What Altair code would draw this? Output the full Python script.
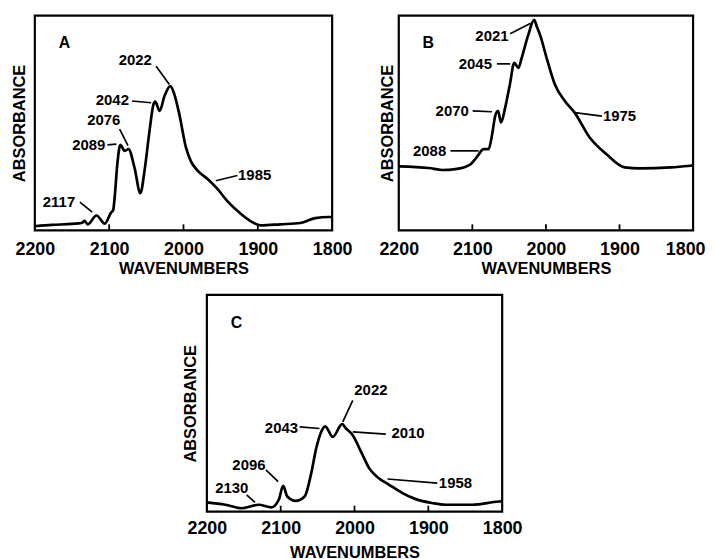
import altair as alt
import pandas as pd

FONT = "Liberation Sans"

# ---------------- Panel A ----------------
a_wn = [2200, 2177, 2150, 2137, 2133, 2129, 2117, 2106, 2097, 2094.7, 2092.6, 2089, 2085,
        2079, 2074, 2066, 2058, 2052.4, 2045.7, 2040.4, 2038, 2032, 2025.6, 2017.7,
        2012.3, 2005.6, 1996.7, 1990, 1981, 1967.6, 1954.3, 1941, 1923, 1907.4, 1896.3,
        1869.6, 1842.8, 1822.7, 1805, 1800]
a_abs = [1.9, 2.5, 3.0, 3.4, 4.4, 2.8, 6.9, 3.1, 8.5, 9.3, 15.4, 30.9, 39.8,
         37.0, 37.8, 29.3, 17.3, 27.8, 46.3, 58.6, 59.9, 55.6, 62.5, 67.1,
         63.3, 54.0, 38.6, 32.1, 27.8, 23.9, 19.3, 13.6, 7.7, 3.8, 2.3,
         2.8, 3.4, 5.7, 6.2, 6.2]
a_lbl = ["2022", "2042", "2076", "2089", "2117", "1985"]
a_lbl_wn = [2064.9, 2095.7, 2107.3, 2127.4, 2167.5, 1904.3]
a_lbl_ab = [79.2, 60.5, 51.3, 39.8, 13.4, 25.9]
a_lead_wn = [2036.8, 2069.3, 2085.9, 2102.3, 2139.4, 1956.5]
a_lead_ab = [76.4, 60.2, 47.1, 39.8, 13.1, 23.1]
a_lead_wn2 = [2019.0, 2043.5, 2074.7, 2090.3, 2122.8, 1927.5]
a_lead_ab2 = [67.9, 59.4, 39.4, 40.1, 8.5, 25.5]

# ---------------- Panel B ----------------
b_wn = [2200, 2159, 2141, 2123, 2103, 2096, 2091, 2085, 2078, 2073, 2069, 2065, 2061,
        2055.4, 2049, 2043, 2037.4, 2033, 2024, 2016, 2012, 2008, 1999, 1987.8, 1974.3,
        1961, 1940.5, 1918, 1893, 1872.7, 1830, 1803, 1800]
b_abs = [29.8, 29.0, 28.1, 28.5, 30.6, 33.2, 35.5, 37.8, 37.8, 44.8, 53.2, 55.6, 50.2,
         57.1, 67.9, 78.0, 75.6, 80.2, 91.0, 98.0, 94.5, 91.0, 80.2, 67.9, 60.2,
         54.8, 43.2, 35.5, 29.3, 28.8, 29.3, 30.1, 30.2]
b_lbl = ["2021", "2045", "2070", "2088", "1975"]
b_lbl_wn = [2073.4, 2095.9, 2127.4, 2158.1, 1900.0]
b_lbl_ab = [90.3, 77.2, 55.6, 36.7, 53.2]
b_lead_wn = [2048.6, 2066.6, 2099.6, 2129.7, 1960.8]
b_lead_ab = [91.5, 77.5, 55.6, 37.0, 54.8]
b_lead_wn2 = [2020.7, 2048.6, 2073.4, 2091.5, 1923.9]
b_lead_ab2 = [96.4, 77.5, 55.2, 37.0, 53.2]

# ---------------- Panel C ----------------
c_wn = [2200, 2175, 2153, 2130, 2112.5, 2102.6, 2096.7, 2091, 2079.7, 2067.6, 2058.6,
        2051.9, 2046, 2039.7, 2029.4, 2016.8, 2011.5, 2002.4, 1991.2, 1980, 1968.8,
        1953, 1935, 1917, 1894.7, 1876.8, 1840.8, 1805, 1800]
c_abs = [4.3, 3.2, 1.6, 3.2, 2.0, 5.5, 11.9, 7.0, 5.0, 7.0, 17.8,
         29.2, 36.1, 39.4, 34.5, 40.4, 38.4, 35.3, 27.7, 20.0, 15.9,
         12.4, 8.6, 5.8, 4.0, 3.2, 3.2, 4.7, 4.8]
c_lbl = ["2022", "2043", "2010", "2096", "2130", "1958"]
c_lbl_wn = [1977.8, 2099.0, 1927.5, 2143.0, 2166.3, 1863.3]
c_lbl_ab = [56.3, 38.4, 36.1, 21.6, 10.9, 13.2]
c_lead_wn = [2002.4, 2074.3, 2002.4, 2120.1, 2146.1, 1955.3]
c_lead_ab = [51.4, 39.1, 36.8, 19.3, 7.8, 15.1]
c_lead_wn2 = [2015.9, 2047.4, 1957.6, 2103.4, 2134.9, 1887.9]
c_lead_ab2 = [41.4, 38.4, 35.8, 13.9, 4.3, 13.2]

tick_wn = [2100, 2000, 1900]
axis_values = [2200, 2100, 2000, 1900, 1800]
letter_wn = 2160
letter_ab = 87


def panel(letter, wn, ab, lbl, lbl_wn, lbl_ab, l_wn, l_ab, l_wn2, l_ab2,
          width, height, title_x, label_pad, title_y, last_shift=0):
    xscale = alt.Scale(domain=[2200, 1800], nice=False)
    yscale = alt.Scale(domain=[0, 100], nice=False, zero=False)
    axis_kw = dict(values=axis_values, format="d", labelFlush=False, labelOverlap=False,
                   ticks=False, tickSize=0, domain=False, grid=False,
                   labelPadding=label_pad, labelBaseline="middle", labelFontSize=18,
                   title="WAVENUMBERS", titleY=title_y, titleBaseline="middle",
                   titleFontSize=16.5)
    if last_shift:
        axis_kw["labelOffset"] = {"condition": {"test": "datum.value == 1800",
                                                "value": last_shift}, "value": 0}
    xaxis = alt.Axis(**axis_kw)
    yaxis = alt.Axis(labels=False, ticks=False, domain=False, grid=False,
                     title="ABSORBANCE", titleX=title_x, titleY=height / 2,
                     titleAngle=-90, titleAlign="center", titleBaseline="middle",
                     titleFontSize=16.5)
    line_df = pd.DataFrame({"wn": wn, "ab": ab})
    line = alt.Chart(line_df).mark_line(color="black", strokeWidth=2.7,
                                        interpolate="monotone").encode(
        x=alt.X("wn:Q", scale=xscale, axis=xaxis),
        y=alt.Y("ab:Q", scale=yscale, axis=yaxis),
        order=alt.Order("wn:Q", sort="descending"),
    )
    tick_df = pd.DataFrame({"wn": tick_wn})
    ticks = alt.Chart(tick_df).mark_rule(color="black", strokeWidth=1.8).encode(
        x=alt.X("wn:Q"), y=alt.value(height), y2=alt.value(height - 6))
    lead_df = pd.DataFrame({"wn": l_wn, "ab": l_ab, "wn2": l_wn2, "ab2": l_ab2})
    leads = alt.Chart(lead_df).mark_rule(color="black", strokeWidth=1.7).encode(
        x=alt.X("wn:Q"), x2="wn2:Q", y=alt.Y("ab:Q"), y2="ab2:Q")
    txt_df = pd.DataFrame({"wn": lbl_wn, "ab": lbl_ab, "t": lbl})
    txt = alt.Chart(txt_df).mark_text(font=FONT, fontWeight="bold", fontSize=15,
                                      color="black", align="center",
                                      baseline="middle").encode(
        x=alt.X("wn:Q"), y=alt.Y("ab:Q"), text="t:N")
    let_df = pd.DataFrame({"wn": [letter_wn], "ab": [letter_ab], "t": [letter]})
    let = alt.Chart(let_df).mark_text(font=FONT, fontWeight="bold", fontSize=16,
                                      color="black", align="center",
                                      baseline="middle").encode(
        x=alt.X("wn:Q"), y=alt.Y("ab:Q"), text="t:N")
    return alt.layer(line, ticks, leads, txt, let).properties(width=width, height=height)


pa = panel("A", a_wn, a_abs, a_lbl, a_lbl_wn, a_lbl_ab, a_lead_wn, a_lead_ab,
           a_lead_wn2, a_lead_ab2, 299, 216, -15, 19, 38)
pb = panel("B", b_wn, b_abs, b_lbl, b_lbl_wn, b_lbl_ab, b_lead_wn, b_lead_ab,
           b_lead_wn2, b_lead_ab2, 296, 216, -11, 19, 38, last_shift=-8)
pc = panel("C", c_wn, c_abs, c_lbl, c_lbl_wn, c_lbl_ab, c_lead_wn, c_lead_ab,
           c_lead_wn2, c_lead_ab2, 297, 218, -16, 17, 41)

spacer = alt.Chart(pd.DataFrame({"t": [""]})).mark_text().encode(
    text="t:N").properties(width=146, height=10,
                           view=alt.ViewBackground(stroke="transparent"))

top = alt.hconcat(pa, pb, spacing=23)
bottom = alt.hconcat(spacer, pc, spacing=0)

chart = alt.vconcat(top, bottom, spacing=15).properties(
    padding={"left": 2, "top": 3, "right": 0, "bottom": 0},
    background="white",
).configure_view(
    stroke="black", strokeWidth=2.2
).configure_axis(
    labelFont=FONT, titleFont=FONT, labelFontWeight="bold", titleFontWeight="bold",
    labelColor="black", titleColor="black"
)

chart.save("out.html", embed_options={"renderer": "svg", "actions": False})
